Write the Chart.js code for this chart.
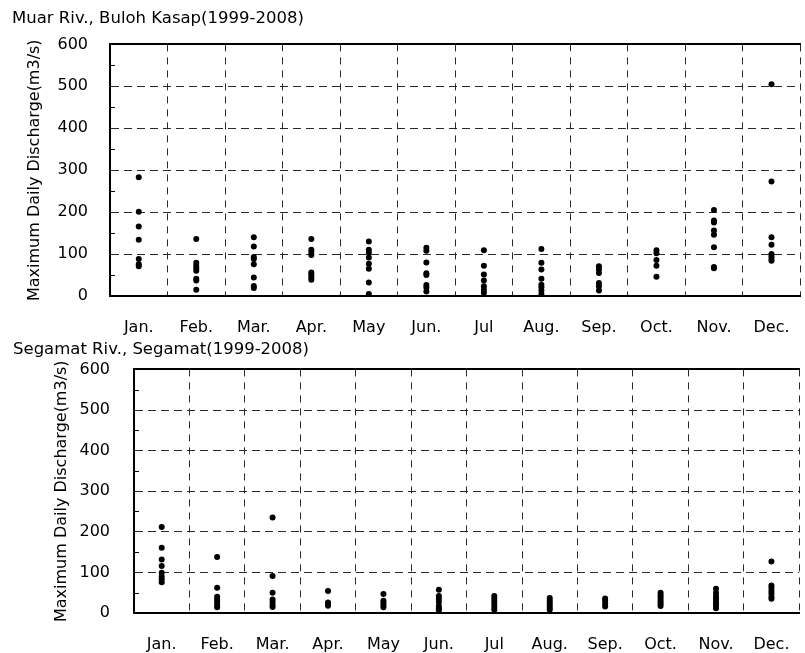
<!DOCTYPE html>
<html>
<head>
<meta charset="utf-8">
<script src="https://cdn.jsdelivr.net/npm/chart.js@4/dist/chart.umd.min.js"></script>
<style>
  html, body { margin: 0; padding: 0; background: #fff; overflow: hidden; }
  body { width: 805px; height: 653px; position: relative; }
  canvas { position: absolute; left: 0; }
  #muar { top: 0; }
  #segamat { top: 330px; }
</style>
</head>
<body>
<canvas id="muar" width="812" height="336"></canvas>
<canvas id="segamat" width="812" height="323"></canvas>
<script>
// month categories and y ticks
const months = ["Jan.", "Feb.", "Mar.", "Apr.", "May", "Jun.", "Jul", "Aug.", "Sep.", "Oct.", "Nov.", "Dec."];
const yMax = 600;
const yStep = 100;
const minorTickValues = [50, 150, 250, 350, 450, 550];

// yearly maximum daily discharge (m3/s), one list per month
const muarValues = [
  [283, 201, 166, 134, 88, 76, 71],
  [136, 79, 72, 66, 60, 41, 37, 15],
  [140, 118, 93, 88, 76, 44, 24, 19],
  [136, 110, 105, 98, 56, 51, 45, 39],
  [130, 110, 103, 92, 77, 65, 32, 5],
  [115, 108, 80, 54, 50, 26, 20, 11],
  [109, 72, 51, 37, 23, 15, 7],
  [112, 79, 63, 41, 27, 21, 13, 5],
  [71, 63, 55, 31, 23, 13],
  [109, 102, 86, 72, 46],
  [205, 180, 175, 156, 146, 116, 69, 66],
  [505, 273, 140, 122, 100, 94, 89, 84],
];

const segamatValues = [
  [212, 161, 132, 116, 99, 90, 83, 76],
  [138, 62, 40, 33, 27, 20, 14],
  [235, 91, 50, 33, 27, 20, 15],
  [54, 26, 22, 18],
  [47, 30, 25, 20, 14],
  [57, 42, 35, 27, 17, 12, 7],
  [42, 36, 29, 22, 15, 8],
  [37, 31, 25, 19, 13, 8],
  [36, 30, 23, 16],
  [50, 44, 38, 32, 27, 22, 17],
  [60, 50, 42, 36, 30, 24, 18, 12],
  [127, 68, 62, 55, 48, 40, 35],
];

const FONT = "'DejaVu Sans', 'Liberation Sans', sans-serif";

// short inward ticks at the half-hundreds on the y axis
const minorTicks = {
  id: "minorTicks",
  afterDraw(chart) {
    const { ctx, chartArea } = chart;
    const y = chart.scales.y;
    ctx.save();
    ctx.strokeStyle = "#000";
    ctx.lineWidth = 1;
    minorTickValues.forEach((v) => {
      const py = Math.round(y.getPixelForValue(v)) + 0.5;
      ctx.beginPath();
      ctx.moveTo(chartArea.left, py);
      ctx.lineTo(chartArea.left + 5, py);
      ctx.stroke();
    });
    ctx.restore();
  },
};

function toPoints(values) {
  const pts = [];
  values.forEach((list, i) => list.forEach((v) => pts.push({ x: months[i], y: v })));
  return pts;
}

function makePanel(id, title, values, L) {
  return new Chart(document.getElementById(id), {
    type: "scatter",
    data: {
      labels: months,
      datasets: [{
        data: toPoints(values),
        backgroundColor: "#000",
        borderWidth: 0,
        pointRadius: 3,
        pointHoverRadius: 3,
      }],
    },
    plugins: [minorTicks],
    options: {
      responsive: false,
      animation: false,
      events: [],
      layout: { padding: { left: L.left, right: L.right, top: 0, bottom: 0 } },
      plugins: {
        legend: { display: false },
        tooltip: { enabled: false },
        title: {
          display: true,
          text: title,
          align: "start",
          color: "#000",
          font: { family: FONT, size: 16.5, weight: "normal" },
          padding: { top: L.titleTop, bottom: L.titleBottom },
        },
      },
      scales: {
        x: {
          type: "category",
          labels: months,
          offset: true,
          grid: { offset: true, drawTicks: false, color: "#2a2a2a", lineWidth: 1 },
          border: { display: true, color: "#000", width: 2, dash: [7, 6] },
          ticks: { color: "#000", padding: L.xPad, font: { family: FONT, size: 16 }, maxRotation: 0, autoSkip: false },
          afterFit: (s) => { s.height = 40; },
        },
        top: {
          type: "category",
          labels: months,
          position: "top",
          offset: true,
          grid: { display: false, drawTicks: false },
          ticks: { display: false },
          border: { display: true, color: "#000", width: 2 },
          afterFit: (s) => { s.height = 0; },
        },
        y: {
          min: 0,
          max: yMax,
          ticks: { stepSize: yStep, color: "#000", padding: L.yPad, font: { family: FONT, size: 16 } },
          grid: { drawTicks: false, color: "#2a2a2a", lineWidth: 1 },
          border: { display: true, color: "#000", width: 2, dash: [8, 5] },
          title: {
            display: true,
            text: "Maximum Daily Discharge(m3/s)",
            color: "#000",
            font: { family: FONT, size: 16 },
            padding: { top: L.yTitlePad, bottom: 0 },
          },
          afterFit: (s) => { s.width = L.yWidth; },
        },
      },
    },
  });
}

makePanel("muar", "Muar Riv., Buloh Kasap(1999-2008)", muarValues, {
  left: 12, right: 6, titleTop: 8.4, titleBottom: 16.2, xPad: 22, yPad: 22, yTitlePad: 13, yWidth: 98,
});

makePanel("segamat", "Segamat Riv., Segamat(1999-2008)", segamatValues, {
  left: 13, right: 3.6, titleTop: 9.4, titleBottom: 10.2, xPad: 22, yPad: 24, yTitlePad: 39.4, yWidth: 121,
});
</script>
</body>
</html>
